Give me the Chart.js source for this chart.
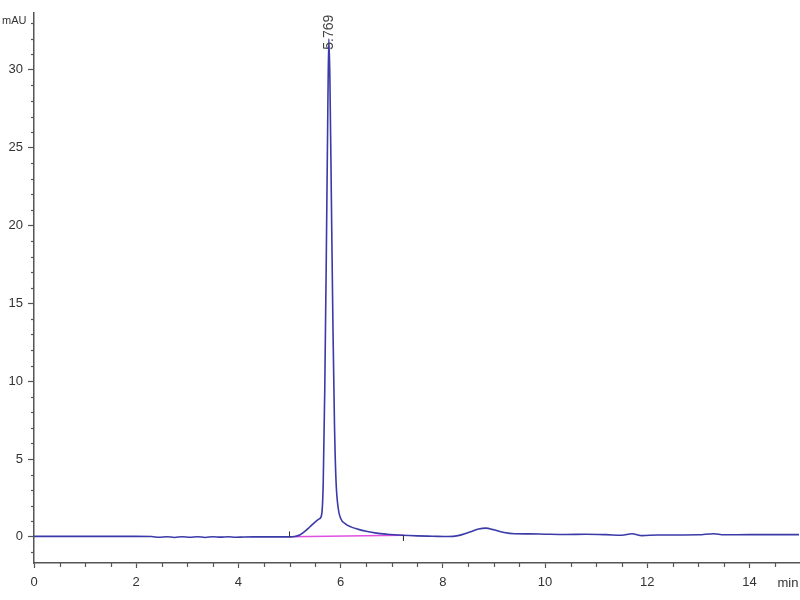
<!DOCTYPE html>
<html>
<head>
<meta charset="utf-8">
<script src="https://cdn.jsdelivr.net/npm/chart.js@4.4.0/dist/chart.umd.min.js"></script>
<style>
  html, body { margin: 0; padding: 0; background: #fff; }
  #wrap { width: 800px; height: 600px; }
</style>
</head>
<body>
<div id="wrap"><canvas id="chromChart"></canvas></div>
<script>
// Retention time (min) and absorbance (mAU)
const times = [0, 0.5, 1, 1.5, 2, 2.3, 2.45, 2.6, 2.75, 2.9, 3.05, 3.2, 3.35, 3.5, 3.65, 3.8, 3.95, 4.1, 4.3, 4.6,
    5.0, 5.1, 5.2, 5.3, 5.4, 5.5, 5.58, 5.63, 5.66, 5.69, 5.72, 5.75, 5.769, 5.79, 5.82, 5.85,
    5.88, 5.91, 5.95, 6.0, 6.1, 6.2, 6.35, 6.5, 6.7, 6.9, 7.2, 7.5, 7.8, 8.1, 8.3, 8.5, 8.7,
    8.84, 9.0, 9.2, 9.4, 9.7, 10.0, 10.4, 10.8, 11.2, 11.5, 11.7, 11.9, 12.2, 12.6, 13.0,
    13.3, 13.5, 14.0, 14.5, 15.0];
const absorbance = [0.03, 0.03, 0.03, 0.03, 0.03, 0.02, -0.03, 0.01, -0.04, 0.01, -0.03, 0.01, -0.04, 0.01, -0.02, 0.01, -0.03, -0.01, 0.0, 0.0,
    0.0, 0.02, 0.12, 0.35, 0.65, 0.95, 1.15, 1.45, 3.5, 9.5, 18, 27.5, 32.0, 29.5, 21.5, 13.5,
    7.2, 3.6, 1.9, 1.2, 0.82, 0.64, 0.48, 0.36, 0.24, 0.17, 0.1, 0.06, 0.04, 0.02, 0.08, 0.28, 0.5,
    0.56, 0.45, 0.28, 0.2, 0.19, 0.17, 0.15, 0.17, 0.14, 0.1, 0.2, 0.08, 0.12, 0.12, 0.13,
    0.2, 0.13, 0.14, 0.14, 0.14];

// Integration baseline (pink) start / end
const baseTimes = [5.0, 7.23];
const baseValues = [0.0, 0.1];

// Peak annotation
const peakTime = 5.769;
const peakHeight = 32.0;
const peakLabel = "5.769";

const xTicks = [0, 2, 4, 6, 8, 10, 12, 14];
const yTicks = [0, 5, 10, 15, 20, 25, 30];

const tickFont = { family: "'Liberation Sans', Arial", size: 13 };

const traceData = times.map((t, i) => ({ x: t, y: absorbance[i] }));
const baseData = baseTimes.map((t, i) => ({ x: t, y: baseValues[i] }));
// small integration markers at the baseline ends
const startMark = [{ x: baseTimes[0], y: baseValues[0] }, { x: baseTimes[0], y: baseValues[0] + 0.35 }];
const endMark = [{ x: baseTimes[1], y: baseValues[1] }, { x: baseTimes[1], y: baseValues[1] - 0.35 }];

const extras = {
    id: 'extras',
    afterDraw(chart) {
        const ctx = chart.ctx;
        const xs = chart.scales.x, ys = chart.scales.y;
        const axisY = chart.chartArea.bottom;
        const axisX = chart.chartArea.left;
        ctx.save();
        ctx.strokeStyle = '#555';
        ctx.lineWidth = 1.2;
        // minor ticks on x every 0.5 min
        for (let v = 0.5; v < xs.max; v += 0.5) {
            if (v % 2 === 0) continue;
            const px = Math.round(xs.getPixelForValue(v)) + 0.5;
            ctx.beginPath();
            ctx.moveTo(px, axisY);
            ctx.lineTo(px, axisY + 4);
            ctx.stroke();
        }
        // minor ticks on y every 1 mAU
        for (let v = Math.ceil(ys.min); v < ys.max; v += 1) {
            if (v % 5 === 0) continue;
            const py = Math.round(ys.getPixelForValue(v)) + 0.5;
            ctx.beginPath();
            ctx.moveTo(axisX - 3, py);
            ctx.lineTo(axisX, py);
            ctx.stroke();
        }
        ctx.fillStyle = '#333';
        ctx.font = "11px 'Liberation Sans', Arial";
        ctx.textAlign = 'left';
        ctx.textBaseline = 'middle';
        ctx.fillText('mAU', 2, 21);
        ctx.textAlign = 'center';
        ctx.font = "13px 'Liberation Sans', Arial";
        ctx.fillText('min', 788, 583);

        // peak label, rotated
        const px = xs.getPixelForValue(peakTime);
        const py = ys.getPixelForValue(peakHeight) + 11;
        ctx.translate(px, py);
        ctx.rotate(-Math.PI / 2);
        ctx.textAlign = 'left';
        ctx.textBaseline = 'middle';
        ctx.fillStyle = '#444';
        ctx.font = "14px 'Liberation Sans', Arial";
        ctx.fillText(peakLabel, 0, 0);
        ctx.restore();
    }
};

new Chart(document.getElementById('chromChart'), {
    type: 'line',
    data: {
        datasets: [
            {
                data: baseData,
                borderColor: '#e050e0',
                borderWidth: 1.5,
                pointRadius: 0,
                order: 2
            },
            {
                data: traceData,
                borderColor: '#3a3aa8',
                borderWidth: 1.6,
                pointRadius: 0,
                cubicInterpolationMode: 'monotone',
                order: 1
            },
            {
                data: startMark,
                borderColor: '#333',
                borderWidth: 1,
                pointRadius: 0
            },
            {
                data: endMark,
                borderColor: '#333',
                borderWidth: 1,
                pointRadius: 0
            }
        ]
    },
    options: {
        responsive: true,
        maintainAspectRatio: false,
        animation: false,
        layout: { padding: { top: 13, right: 1, left: 0, bottom: 0 } },
        plugins: {
            legend: { display: false },
            tooltip: { enabled: false }
        },
        scales: {
            x: {
                type: 'linear',
                min: 0,
                max: 14.97,
                afterBuildTicks: scale => { scale.ticks = xTicks.map(v => ({ value: v })); },
                afterFit: scale => { scale.height = 37; },
                ticks: { font: tickFont, color: '#333', padding: 7, maxRotation: 0,
                    callback: v => String(v) },
                grid: { drawOnChartArea: false, tickLength: 5, color: '#555', tickWidth: 1.2 },
                border: { color: '#555', width: 1.5 }
            },
            y: {
                type: 'linear',
                min: -1.68,
                max: 33.65,
                afterBuildTicks: scale => { scale.ticks = yTicks.map(v => ({ value: v })); },
                afterFit: scale => { scale.width = 34; },
                ticks: { font: tickFont, color: '#333', padding: 5,
                    callback: v => String(v) },
                grid: { drawOnChartArea: false, tickLength: 6, color: '#555', tickWidth: 1.2 },
                border: { color: '#555', width: 1.5 }
            }
        }
    },
    plugins: [extras]
});
</script>
</body>
</html>
